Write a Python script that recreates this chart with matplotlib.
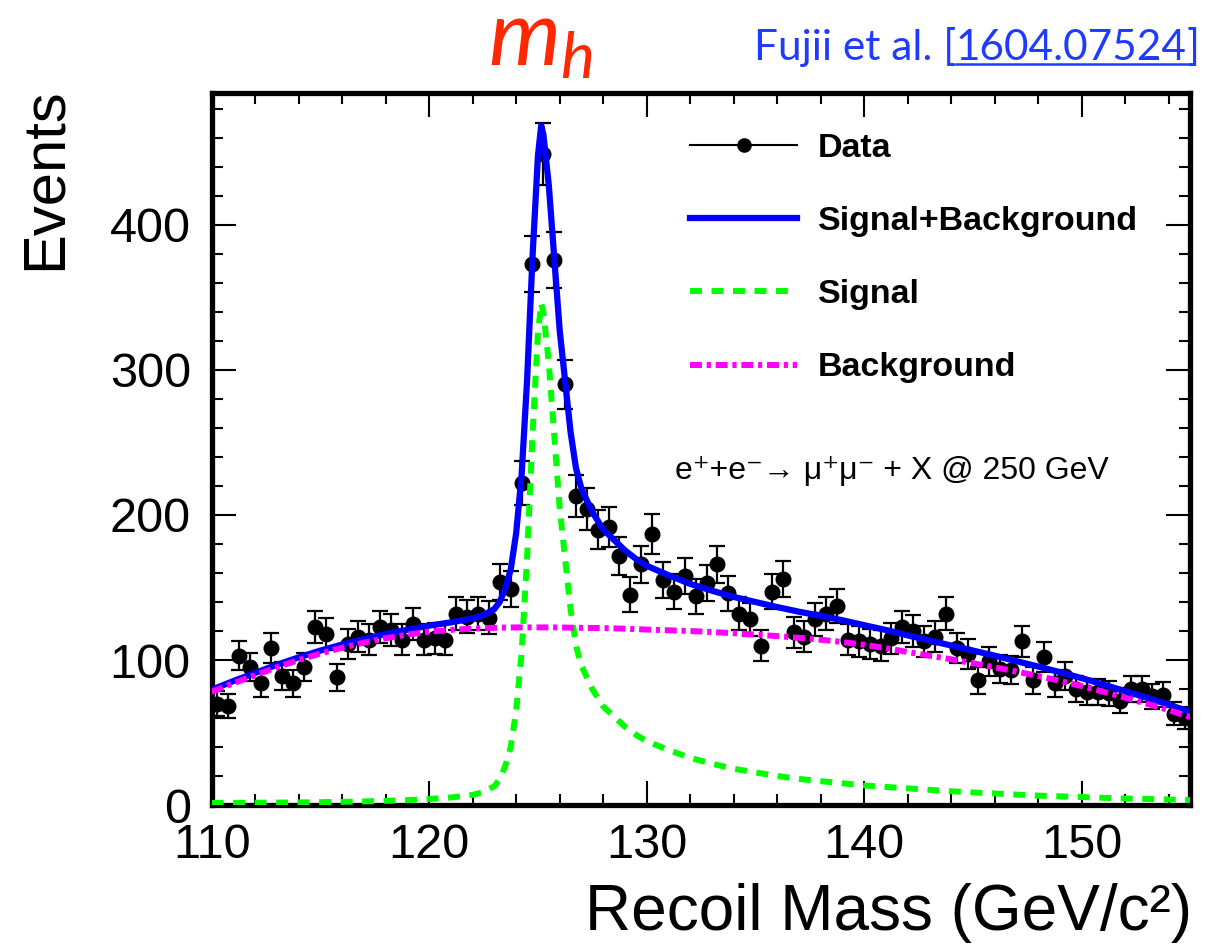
import numpy as np
import matplotlib.pyplot as plt
from matplotlib.lines import Line2D
from matplotlib.ticker import MultipleLocator

plt.rcParams['font.family'] = ['Liberation Sans', 'DejaVu Sans']
plt.rcParams['mathtext.fontset'] = 'custom'
plt.rcParams['mathtext.it'] = 'Lato:italic'
plt.rcParams['mathtext.rm'] = 'Lato'

# recoil mass histogram, 0.5 GeV bins from 110 to 155
bin_centers = np.arange(110.25, 155.0, 0.5)
events = [70, 68, 103, 95, 84, 108, 89, 84, 95, 123,
          118, 88, 111, 116, 114, 123, 121, 114, 125, 114,
          115, 114, 132, 130, 132, 129, 154, 149, 222, 373,
          449, 376, 290, 213, 204, 190, 192, 172, 145, 166,
          187, 155, 147, 158, 144, 153, 166, 146, 132, 128,
          110, 147, 156, 119, 116, 128, 132, 137, 114, 113,
          111, 110, 115, 123, 120, 113, 116, 132, 108, 104,
          86, 99, 94, 93, 113, 86, 102, 84, 89, 80,
          78, 78, 77, 72, 80, 80, 75, 76, 63, 60]

# fit components sampled along the recoil mass
fit_mass = [110, 111, 112, 113, 114, 115, 116, 117, 118, 119, 120, 121, 122,
            122.5, 123, 123.25, 123.5, 123.75, 124, 124.25, 124.5, 124.75,
            125, 125.15, 125.25, 125.5, 125.75, 126, 126.25, 126.5, 126.75,
            127, 127.5, 128, 128.5, 129, 129.5, 130,
            131, 132, 133, 134, 135, 136, 137, 138, 139, 140, 141, 142, 143,
            144, 145, 146, 147, 148, 149, 150, 151, 152, 153, 154, 155]
fit_bkg = [78, 84, 89.5, 95, 100, 104.5, 108.5, 112, 115, 117.5, 119.5, 120.8, 121.7,
           122, 122.2, 122.3, 122.4, 122.4, 122.5, 122.5, 122.5, 122.5,
           122.5, 122.5, 122.5, 122.5, 122.5, 122.4, 122.4, 122.3, 122.3,
           122.2, 122.1, 122, 121.8, 121.6, 121.3, 121,
           120.5, 120, 119.3, 118.5, 117.5, 116.5, 115.3, 114, 112.4, 110.5, 108.2,
           105.5, 103, 100.5, 97.8, 95, 92, 89, 85.6, 82, 78.1, 74, 69.8, 65.5, 60.5]
fit_sig = [1.5, 1.5, 1.6, 1.7, 1.8, 2.0, 2.2, 2.5, 2.9, 3.4, 4.2, 5.2, 7,
           9, 13, 18, 27, 40, 65, 105, 170, 255,
           325, 346, 340, 305, 255, 205, 170, 135, 110,
           96, 80, 68, 61, 54, 48.5, 44,
           38, 32.5, 28.5, 25, 22.5, 20, 18, 16.5, 15, 13.5, 12.5, 11.5, 10.5,
           9.5, 8.7, 8, 7.2, 6.5, 6, 5.5, 5, 4.5, 4.2, 3.8, 3.5]
fit_total = np.array(fit_bkg) + np.array(fit_sig)

fig = plt.figure(figsize=(12.08, 9.44), dpi=100)
ax = fig.add_axes([0.1752, 0.1472, 0.8103, 0.7543])

ax.errorbar(bin_centers, events, yerr=np.sqrt(events), fmt='o', color='black',
            ms=10.5, elinewidth=1.6, capsize=6, capthick=1.6, zorder=2)
ax.plot(fit_mass, fit_total, color='#0000ff', lw=4.5, zorder=3)
ax.plot(fit_mass, fit_sig, color='#00ff00', lw=4.3, dashes=(2, 1.6), zorder=4)
ax.plot(fit_mass, fit_bkg, color='#ff00ff', lw=4.3, dashes=(2, 0.8, 0.7, 0.8), zorder=5)

ax.set_xlim(110, 155)
ax.set_ylim(0, 491)
ax.xaxis.set_major_locator(MultipleLocator(10))
ax.xaxis.set_minor_locator(MultipleLocator(2))
ax.yaxis.set_major_locator(MultipleLocator(100))
ax.yaxis.set_minor_locator(MultipleLocator(20))
ax.tick_params(which='both', direction='in', top=True, right=True, width=1.5,
               labelsize=35)
ax.tick_params(which='major', length=17)
ax.tick_params(which='minor', length=8)
ax.tick_params(axis='x', pad=13)
ax.tick_params(axis='y', pad=15)
for s in ax.spines.values():
    s.set_linewidth(3.8)

ax.set_ylabel('Events', fontsize=43, loc='top')
ax.yaxis.set_label_coords(-0.142, 1.008)
ax.set_xlabel('Recoil Mass (GeV/c\u00b2)', fontsize=46, loc='right')
ax.xaxis.set_label_coords(1.002, -0.109)

handles = [Line2D([], [], color='black', lw=1.5, marker='o', ms=9.5),
           Line2D([], [], color='#0000ff', lw=4.5),
           Line2D([], [], color='#00ff00', lw=4.3, dashes=(2, 1.6)),
           Line2D([], [], color='#ff00ff', lw=4.3, dashes=(2, 0.8, 0.7, 0.8))]
labels = ['Data', 'Signal+Background', 'Signal', 'Background']
ax.legend(handles, labels, loc='upper left', bbox_to_anchor=(0.489, 0.944),
          frameon=False, prop={'weight': 'bold', 'size': 24.5}, handlelength=3.15,
          handletextpad=0.6, labelspacing=1.24, borderpad=0, borderaxespad=0,
          numpoints=1)

ax.text(0.473, 0.458, 'e\u207a+e\u207b\u2192 \u03bc\u207a\u03bc\u207b + X @ 250 GeV',
        transform=ax.transAxes, fontsize=23, va='baseline')

fig.text(0.447, 0.931, '$m_h$', color='#ff2800', fontsize=66, ha='center', va='baseline')

# citation, built right to left so the arXiv number can be underlined
W, H = fig.get_size_inches() * fig.dpi
r = fig.canvas.get_renderer()
cite = dict(color='#1f3bff', fontsize=30.5, family='Lato', va='baseline')
y_cite = 0.936
t3 = fig.text(0.9934, y_cite, ']', ha='right', **cite)
bb3 = t3.get_window_extent(r)
t2 = fig.text(bb3.x0 / W, y_cite, '1604.07524', ha='right', **cite)
bb2 = t2.get_window_extent(r)
y_ul = y_cite - 4 / H
fig.add_artist(Line2D([bb2.x0 / W, bb2.x1 / W], [y_ul, y_ul], transform=fig.transFigure,
                      color='#1f3bff', lw=1.8))
fig.text(bb2.x0 / W, y_cite, 'Fujii et al. [', ha='right', **cite)

fig.savefig('out.png', dpi=100)
